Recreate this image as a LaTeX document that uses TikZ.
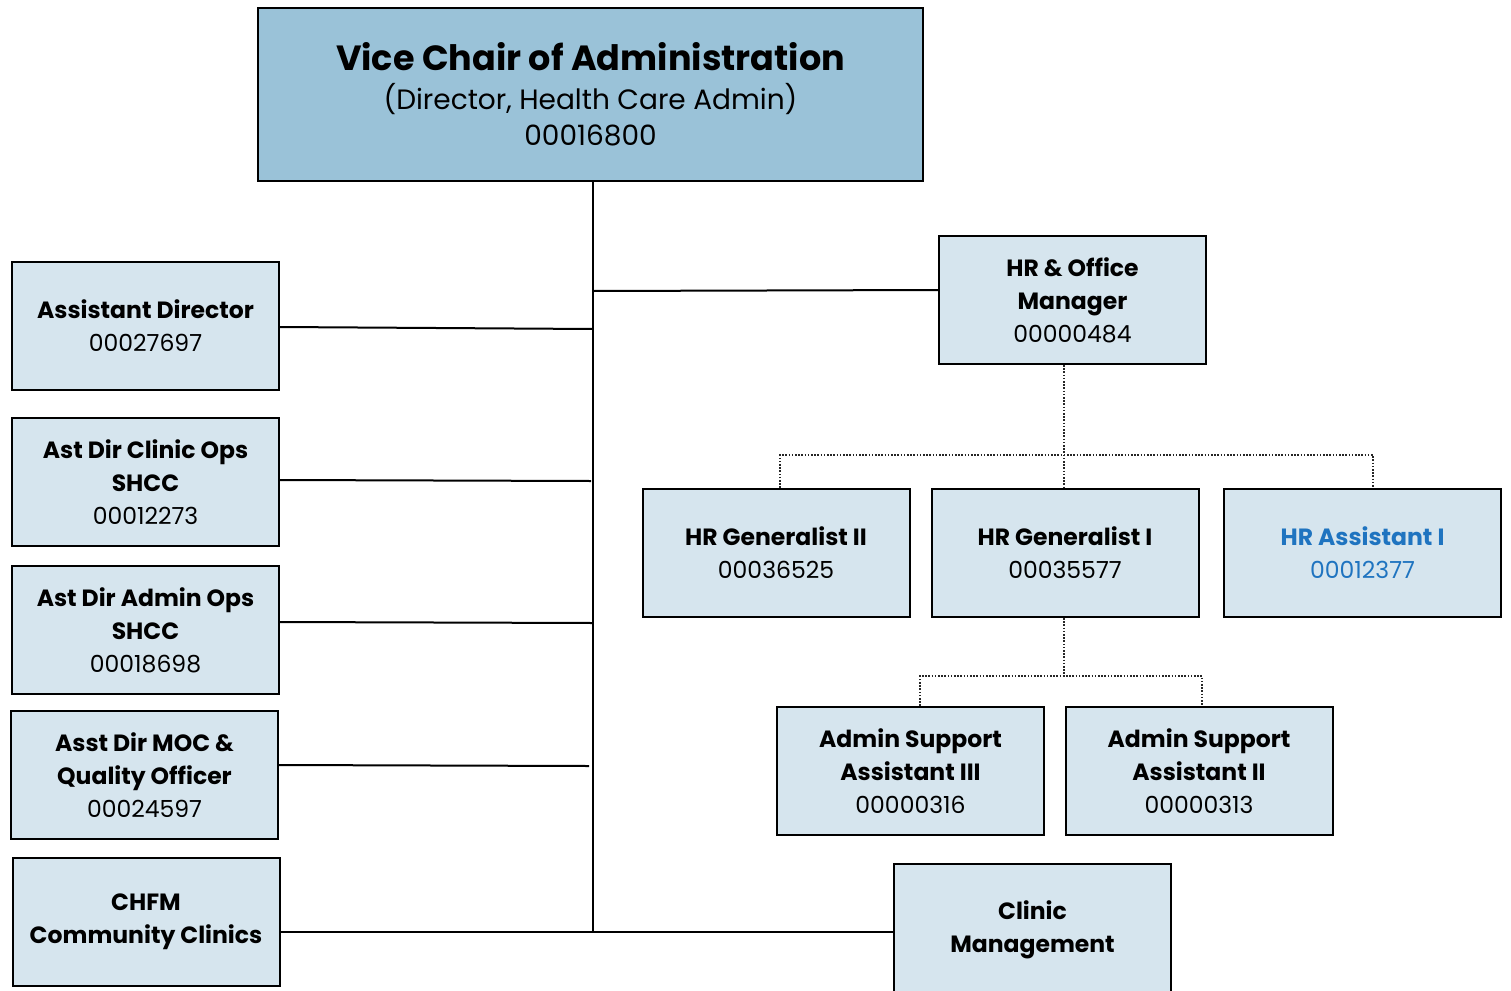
\documentclass[tikz,border=0pt]{standalone}
\usepackage{fontspec}
\setmainfont{Poppins}
\begin{document}
\begin{tikzpicture}[x=1pt,y=-1pt,
  lbox/.style={draw=black, line width=2pt, fill=boxfill, inner sep=0pt,
    minimum width=267pt, minimum height=128pt, align=center,
    font=\fontsize{23.5}{33}\selectfont},
  conn/.style={line width=2pt, draw=black},
  dotconn/.style={line width=1.6pt, draw=black!85, dash pattern=on 1.6pt off 1.6pt}]
\definecolor{boxfill}{HTML}{D6E5EE}
\definecolor{topfill}{HTML}{9AC2D8}
\definecolor{bluetxt}{HTML}{1F74C0}
\useasboundingbox (0,0) rectangle (1511,990);
% top
\node[draw=black, line width=2pt, fill=topfill, inner sep=0pt, minimum width=665pt,
  minimum height=173pt, align=center, font=\fontsize{28}{36}\selectfont] (top) at (590.5,94.5)
  {{\fontsize{35}{41}\selectfont\bfseries Vice Chair of Administration}\\[3pt]
   (Director, Health Care Admin)\\
   00016800};
% left column
\node[lbox] (ad) at (145.5,326) {\bfseries Assistant Director\\00027697};
\node[lbox] (co) at (145.5,482) {\bfseries Ast Dir Clinic Ops\\\bfseries SHCC\\00012273};
\node[lbox] (ao) at (145.5,630) {\bfseries Ast Dir Admin Ops\\\bfseries SHCC\\00018698};
\node[lbox] (moc) at (144.5,775) {\bfseries Asst Dir MOC \&\\\bfseries Quality Officer\\00024597};
\node[lbox] (chfm) at (146,922) {\bfseries CHFM\\\bfseries Community Clinics};
% right side
\node[lbox] (hrm) at (1072.5,300) {\bfseries HR \& Office\\\bfseries Manager\\00000484};
\node[lbox] (hrg2) at (776,553) {\bfseries HR Generalist II\\00036525};
\node[lbox] (hrg1) at (1065,553) {\bfseries HR Generalist I\\00035577};
\node[lbox, minimum width=277pt, text=bluetxt] (hra) at (1362.5,553) {\bfseries HR Assistant I\\00012377};
\node[lbox] (as3) at (910.5,771) {\bfseries Admin Support\\\bfseries Assistant III\\00000316};
\node[lbox] (as2) at (1199,771) {\bfseries Admin Support\\\bfseries Assistant II\\00000313};
\node[lbox, minimum width=277pt, minimum height=132pt] (cm) at (1032.5,930) {\bfseries Clinic\\\bfseries Management};
% solid connectors
\coordinate (trunk) at (593,932);
\draw[conn] (top.south -| trunk) -- (trunk);
\draw[conn] ([yshift=10pt]hrm.west) -- ([yshift=9pt]hrm.west -| trunk);
\draw[conn] ([yshift=-1pt]ad.east) -- ([yshift=-3pt]ad.east -| trunk);
\draw[conn] ([yshift=2pt]co.east) -- ([yshift=1pt,xshift=-2pt]co.east -| trunk);
\draw[conn] ([yshift=8pt]ao.east) -- ([yshift=7pt]ao.east -| trunk);
\draw[conn] ([yshift=10pt]moc.east) -- ([yshift=9pt,xshift=-4pt]moc.east -| trunk);
\draw[conn] (chfm.east |- trunk) -- (cm.west |- trunk);
% dotted connectors
\coordinate (bus1) at (1064,455);
\coordinate (bus2) at (1064,676);
\draw[dotconn] (hrm.south -| bus1) -- (bus1 |- hrg1.north);
\draw[dotconn] ([xshift=4pt]hrg2.north) |- (bus1) -| ([xshift=10.5pt]hra.north);
\draw[dotconn] (hrg1.south -| bus2) -- (bus2);
\draw[dotconn] ([xshift=9.5pt]as3.north) |- (bus2) -| ([xshift=3pt]as2.north);
\end{tikzpicture}
\end{document}
